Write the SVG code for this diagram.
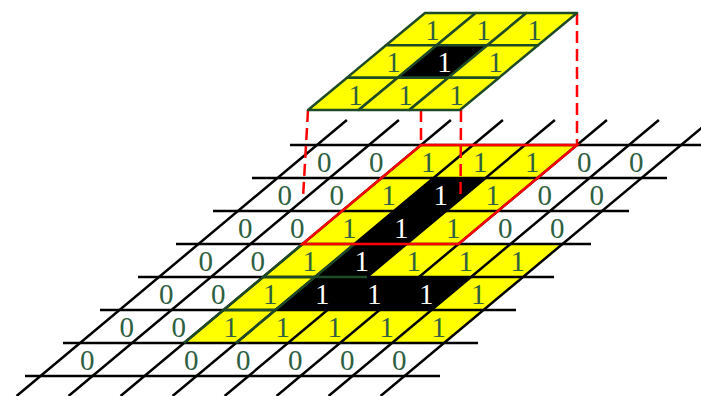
<svg xmlns="http://www.w3.org/2000/svg" xmlns:xlink="http://www.w3.org/1999/xlink" width="701" height="396" viewBox="0 0 701 396">
<style>
.y{fill:#ffff00}
.b{fill:#000000}
.grid{stroke:#000;stroke-width:2.5;fill:none;stroke-linecap:butt}
.dg{stroke:#1f4a27;stroke-width:2.5;fill:none}
.t{font-family:"Liberation Serif","Times New Roman",serif;font-size:29px;text-anchor:middle;fill:#2f5f42}
.w{fill:#ffffff}
.red{stroke:#ff0000;stroke-width:2.5;fill:none;stroke-linejoin:miter}
.dash{stroke:#ff0000;stroke-width:2.5;fill:none;stroke-dasharray:12 6}
.k{stroke:#1f4a27;stroke-width:2.5;stroke-linejoin:round}
</style>
<defs>
<path id="cell" d="M0,0h52l-39.5,33h-52z"/>
<path id="kcell" d="M0,0h50.67l-39,32.33h-50.67z"/>
</defs>
<g id="fills">
<use href="#cell" class="y" x="421" y="145"/><use href="#cell" class="y" x="473" y="145"/><use href="#cell" class="y" x="525" y="145"/>
<use href="#cell" class="y" x="381.5" y="178"/><use href="#cell" class="y" x="485.5" y="178"/>
<use href="#cell" class="y" x="342" y="211"/><use href="#cell" class="y" x="446" y="211"/>
<use href="#cell" class="y" x="302.5" y="244"/><use href="#cell" class="y" x="406.5" y="244"/><use href="#cell" class="y" x="458.5" y="244"/><use href="#cell" class="y" x="510.5" y="244"/>
<use href="#cell" class="y" x="263" y="277"/><use href="#cell" class="y" x="471" y="277"/>
<use href="#cell" class="y" x="223.5" y="310"/><use href="#cell" class="y" x="275.5" y="310"/><use href="#cell" class="y" x="327.5" y="310"/><use href="#cell" class="y" x="379.5" y="310"/><use href="#cell" class="y" x="431.5" y="310"/>
<use href="#cell" class="b" x="433.5" y="178"/>
<use href="#cell" class="b" x="394" y="211"/>
<use href="#cell" class="b" x="354.5" y="244"/>
<use href="#cell" class="b" x="315" y="277"/><use href="#cell" class="b" x="367" y="277"/><use href="#cell" class="b" x="419" y="277"/>
</g>
<g id="grid">
<path class="grid" d="M290,145H705M252,178H667M213,211H629M176,244H591M138,277H554M100,310H516M63,343H478M25,376H440"/>
<path class="grid" d="M346.9,120L16.6,396M398.9,120L68.6,396M450.9,120L120.6,396M502.9,120L172.6,396M554.9,120L224.6,396M606.9,120L276.6,396M658.9,120L328.6,396M710.9,120L380.6,396"/>
<path class="dg" d="M302.5,244L184,343M354.5,244L236,343M263,277H367M223.5,310H275.5"/>
</g>
<g id="labels">
<text class="t" x="324.25" y="171.5">0</text><text class="t" x="376.25" y="171.5">0</text><text class="t" x="428.25" y="171.5">1</text><text class="t" x="480.25" y="171.5">1</text><text class="t" x="532.25" y="171.5">1</text><text class="t" x="584.25" y="171.5">0</text><text class="t" x="636.25" y="171.5">0</text>
<text class="t" x="284.75" y="204.5">0</text><text class="t" x="336.75" y="204.5">0</text><text class="t" x="388.75" y="204.5">1</text><text class="t w" x="440.75" y="204.5">1</text><text class="t" x="492.75" y="204.5">1</text><text class="t" x="544.75" y="204.5">0</text><text class="t" x="596.75" y="204.5">0</text>
<text class="t" x="245.25" y="237.5">0</text><text class="t" x="297.25" y="237.5">0</text><text class="t" x="349.25" y="237.5">1</text><text class="t w" x="401.25" y="237.5">1</text><text class="t" x="453.25" y="237.5">1</text><text class="t" x="505.25" y="237.5">0</text><text class="t" x="557.25" y="237.5">0</text>
<text class="t" x="205.75" y="270.5">0</text><text class="t" x="257.75" y="270.5">0</text><text class="t" x="309.75" y="270.5">1</text><text class="t w" x="361.75" y="270.5">1</text><text class="t" x="413.75" y="270.5">1</text><text class="t" x="465.75" y="270.5">1</text><text class="t" x="517.75" y="270.5">1</text>
<text class="t" x="166.25" y="303.5">0</text><text class="t" x="218.25" y="303.5">0</text><text class="t" x="270.25" y="303.5">1</text><text class="t w" x="322.25" y="303.5">1</text><text class="t w" x="374.25" y="303.5">1</text><text class="t w" x="426.25" y="303.5">1</text><text class="t" x="478.25" y="303.5">1</text>
<text class="t" x="126.75" y="336.5">0</text><text class="t" x="178.75" y="336.5">0</text><text class="t" x="230.75" y="336.5">1</text><text class="t" x="282.75" y="336.5">1</text><text class="t" x="334.75" y="336.5">1</text><text class="t" x="386.75" y="336.5">1</text><text class="t" x="438.75" y="336.5">1</text>
<text class="t" x="87.25" y="369.5">0</text><text class="t" x="191.25" y="369.5">0</text><text class="t" x="243.25" y="369.5">0</text><text class="t" x="295.25" y="369.5">0</text><text class="t" x="347.25" y="369.5">0</text><text class="t" x="399.25" y="369.5">0</text>
</g>
<g id="highlight">
<polygon class="red" points="421,145 577,145 458.5,244 302.5,244"/>
</g>
<g id="connectors">
<path class="dash" d="M577,13V145"/>
<path class="dash" d="M421,110V145"/>
<path class="dash" d="M461,110L460.5,198"/>
<path class="dash" d="M308,110L303,198"/>
</g>
<g id="kernel">
<use href="#kcell" class="y k" x="425" y="13"/><use href="#kcell" class="y k" x="475.67" y="13"/><use href="#kcell" class="y k" x="526.33" y="13"/>
<use href="#kcell" class="y k" x="386" y="45.33"/><use href="#kcell" class="b k" x="436.67" y="45.33"/><use href="#kcell" class="y k" x="487.33" y="45.33"/>
<use href="#kcell" class="y k" x="347" y="77.67"/><use href="#kcell" class="y k" x="397.67" y="77.67"/><use href="#kcell" class="y k" x="448.33" y="77.67"/>
<text class="t" x="432.5" y="39.5">1</text><text class="t" x="483.5" y="39.5">1</text><text class="t" x="534.5" y="39.5">1</text>
<text class="t" x="393.5" y="72">1</text><text class="t w" x="444.5" y="72">1</text><text class="t" x="495.5" y="72">1</text>
<text class="t" x="355.5" y="104.5">1</text><text class="t" x="405.5" y="104.5">1</text><text class="t" x="456.5" y="104.5">1</text>
</g>
</svg>
